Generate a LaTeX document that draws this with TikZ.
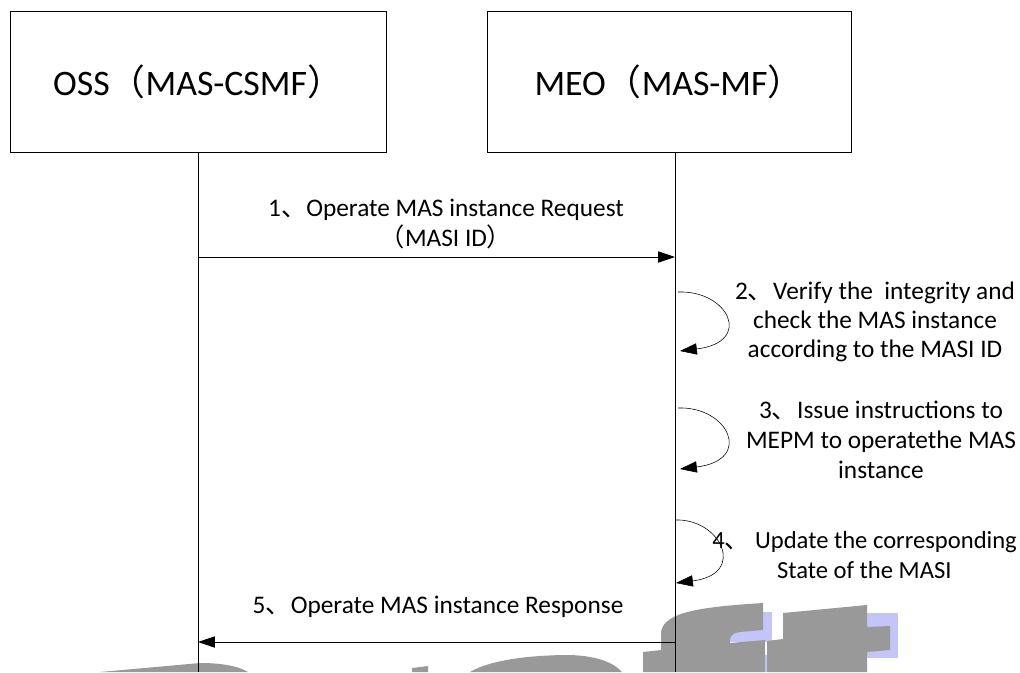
\documentclass[tikz,border=0pt]{standalone}
\usepackage{fontspec}
\setmainfont{Carlito}
\newfontfamily\cjk{Noto Sans CJK SC}
\usetikzlibrary{arrows.meta}
\newcommand{\dun}{{\cjk 、}}
\newcommand{\lpar}{{\cjk （}}
\newcommand{\rpar}{{\cjk ）}}
\definecolor{wmgray}{HTML}{999999}
\definecolor{wmblue}{HTML}{C4C4F8}
\tikzset{
  actor/.style={draw,line width=0.6pt,minimum width=376*0.025cm,minimum height=141*0.025cm,
    font=\fontsize{25.5}{30}\selectfont},
  msg/.style={font=\fontsize{18}{22}\selectfont,align=center},
}
\begin{document}
\begin{tikzpicture}[x=0.025cm,y=-0.025cm,>={Triangle[length=12pt,width=8pt]},line width=0.6pt]
\useasboundingbox (0,0) rectangle (1020,672);
% watermark remains at the bottom
\fill[wmblue] (730,612) rectangle (772,642);
\fill[wmblue] (866,613) rectangle (898,658);
\fill[wmblue] (745,655) rectangle (783,672);
\fill[wmgray] (100,672) -- (200,663) .. controls (225,663) and (240,667) .. (248,672) -- cycle;
\fill[wmgray] (412,672) -- (412,668) -- (428,666) -- (428,672) -- cycle;
\fill[wmgray] (470,672) .. controls (490,660) and (530,655) .. (570,655) .. controls (600,656) and (615,664) .. (622,672) -- cycle;
\fill[wmgray] (643,672) -- (643,652) -- (661,650) -- (661,632) .. controls (664,612) and (700,607) .. (763,603)
  -- (763,630) -- (740,632) .. controls (731,633) and (729,638) .. (730,643) -- (765,640) -- (765,672) -- cycle;
\fill[wmgray] (767,672) -- (767,641) -- (783,639) -- (783,613) -- (867,605) -- (867,627) -- (890,626)
  -- (890,650) -- (867,652) -- (867,672) -- cycle;

% the two parties
\node[actor] (oss) at (198,81.5) {OSS\lpar MAS-CSMF\rpar};
\node[actor,minimum width=364*0.025cm] (meo) at (669,81.5) {MEO\lpar MAS-MF\rpar};
\coordinate (ossend) at (198,672);
\coordinate (meoend) at (675,672);
\draw (oss.south) -- (ossend);
\draw (meo.south -| meoend) -- (meoend);

% points on the lifelines
\coordinate (m1a) at (198,257);
\coordinate (m1b) at (675,257);
\coordinate (m2a) at (678,292);
\coordinate (m2b) at (680,351);
\coordinate (m3a) at (678,408);
\coordinate (m3b) at (680,469);
\coordinate (m4a) at (675,520);
\coordinate (m4b) at (676,583);
\coordinate (m5a) at (675,642);
\coordinate (m5b) at (198,642);

\draw[->] (m1a)--(m1b);
\node[msg] (t1) at (446,224) {1\dun Operate MAS instance Request\\\lpar MASI ID\rpar};

\draw[->,line width=0.4pt] (m2a) .. controls (728,290) and (754,342) .. (m2b);
\node[msg,font=\fontsize{18}{20.5}\selectfont] (t2) at (875,322) {2\dun Verify the~ integrity and\\check the MAS instance\\according to the MASI ID};

\draw[->,line width=0.4pt] (m3a) .. controls (728,406) and (754,460) .. (m3b);
\node[msg,font=\fontsize{18}{21.5}\selectfont] (t3) at (881,440) {3\dun Issue instructions to\\MEPM to operatethe MAS\\instance};

\draw[->,line width=0.4pt] (m4a) .. controls (720,518) and (748,574) .. (m4b);
\node[msg,font=\fontsize{17.5}{21.5}\selectfont,align=left,anchor=west,inner sep=0pt] (t4) at (712,555) {4\dun~Update the corresponding\\\hspace*{46pt}State of the MASI};

\draw[->] (m5a)--(m5b);
\node[msg] (t5) at (438,607) {5\dun Operate MAS instance Response};
\end{tikzpicture}
\end{document}
